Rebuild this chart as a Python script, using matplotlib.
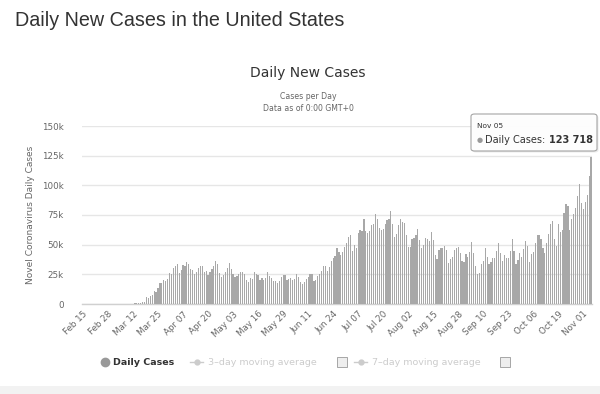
import matplotlib
matplotlib.use("Agg")
import matplotlib.pyplot as plt
from matplotlib.patches import FancyBboxPatch, Rectangle
from matplotlib.lines import Line2D
import numpy as np
import datetime as dt

# ---------------- data ----------------
start_date = dt.date(2020, 2, 15)
feb = [0, 0, 0, 0, 0, 0, 2, 0, 0, 0, 0, 1, 0, 1, 2]
mar = [8, 23, 20, 31, 68, 45, 140, 116, 65, 376, 322, 382, 516, 548, 772, 1133,
       1789, 1362, 5894, 5423, 6389, 7787, 10571, 9893, 13800, 18058, 17821,
       19821, 19408, 20921, 26341]
apr = [25200, 30081, 32133, 33867, 25910, 28973, 32835, 32141, 35099, 33752,
       29861, 28917, 25306, 26641, 30148, 31667, 32165, 26740, 28225, 24601,
       26844, 29391, 31856, 36144, 33955, 26543, 22407, 24385, 27326, 29917]
may = [34955, 29288, 25501, 22335, 23976, 24980, 27368, 26906, 25621, 20329,
       18196, 22048, 20782, 27246, 25508, 24487, 19891, 21733, 20289, 21551,
       27246, 23584, 22141, 19608, 19790, 17813, 19249, 22591, 24481, 24218,
       20486]
jun = [21066, 21882, 19909, 21140, 25177, 22733, 18591, 17014, 18807, 21158,
       23100, 25629, 25484, 19719, 20014, 23500, 25100, 28105, 31866, 32400,
       27500, 30800, 36000, 38800, 40400, 46800, 43600, 41200, 43700, 47900]
jul = [51400, 56600, 58300, 45000, 49500, 47000, 60000, 62400, 61900, 71400,
       61400, 60100, 61600, 66600, 67200, 75600, 71700, 63900, 62000, 63200,
       67100, 71000, 72000, 78400, 67800, 56100, 58700, 66600, 71300, 69000,
       68500]
aug = [58400, 47700, 48000, 54600, 56000, 58400, 63600, 53700, 46900, 49500,
       55700, 54600, 52700, 61000, 54300, 41000, 38000, 45600, 46800, 47500,
       48800, 45400, 34900, 37900, 40000, 45300, 46900, 48300, 43200, 35900,
       35800]
sep = [42500, 40000, 44000, 52000, 43000, 32000, 25000, 26000, 34000, 36000,
       47000, 40000, 34000, 35000, 39000, 39000, 45000, 51000, 43000, 36000,
       41000, 39000, 39000, 45000, 55000, 45000, 34000, 37000, 43000, 40000]
octo = [46000, 53000, 49000, 35000, 42000, 44000, 51000, 58000, 58000, 55000,
        47000, 43000, 51000, 59000, 67000, 70000, 55000, 49000, 67000, 61000,
        62000, 77000, 84000, 83000, 62000, 72000, 76000, 81000, 91000, 101000,
        85000]
nov = [80000, 86000, 92000, 108000, 123718]

daily_cases = feb + mar + apr + may + jun + jul + aug + sep + octo + nov
dates = [start_date + dt.timedelta(days=i) for i in range(len(daily_cases))]
tick_step = 13
y_ticks = [0, 25000, 50000, 75000, 100000, 125000, 150000]
y_tick_labels = ["0", "25k", "50k", "75k", "100k", "125k", "150k"]

# ---------------- figure ----------------
W, H = 600, 394
fig = plt.figure(figsize=(W / 100, H / 100), dpi=100)
fig.patch.set_facecolor("white")

def fx(px):
    return px / W

def fy(py):
    return 1 - py / H

# bottom gray band
fig.patches.append(Rectangle((0, 0), 1, fy(386), transform=fig.transFigure,
                             facecolor="#f2f2f2", edgecolor="none", zorder=0))

# page title
fig.text(fx(15), fy(26), "Daily New Cases in the United States",
         fontsize=14.2, color="#333333", family="Liberation Sans",
         ha="left", va="baseline")

# chart title / subtitles
fig.text(fx(308), fy(77), "Daily New Cases", fontsize=10, color="#333333",
         ha="center", va="baseline")
fig.text(fx(308), fy(99), "Cases per Day", fontsize=5.6, color="#666666",
         ha="center", va="baseline")
fig.text(fx(308), fy(111), "Data as of 0:00 GMT+0", fontsize=5.6,
         color="#666666", ha="center", va="baseline")

# axes
ax_left, ax_right, ax_top, ax_bottom = 82, 592, 126, 304
ax = fig.add_axes([fx(ax_left), fy(ax_bottom), fx(ax_right - ax_left),
                   (ax_bottom - ax_top) / H])
x = np.arange(len(daily_cases))
ax.bar(x, daily_cases, width=0.62, color="#a8a8a8", edgecolor="none",
       zorder=3)
ax.set_xlim(-0.5, len(daily_cases) - 0.5)
ax.set_ylim(0, 150000)
ax.set_yticks(y_ticks)
ax.set_yticklabels(y_tick_labels)
ax.yaxis.grid(True, color="#e6e6e6", linewidth=1, zorder=0)
ax.set_axisbelow(True)
for s in ["top", "right", "left"]:
    ax.spines[s].set_visible(False)
ax.spines["bottom"].set_color("#d0d0d0")
ax.spines["bottom"].set_linewidth(1)
ax.tick_params(axis="y", length=0, labelsize=6.3, labelcolor="#666666",
               pad=13)
tick_idx = list(range(0, len(daily_cases), tick_step))
ax.set_xticks(tick_idx)
ax.set_xticklabels([dates[i].strftime("%b %d") for i in tick_idx],
                   rotation=45, ha="right", rotation_mode="anchor")
ax.tick_params(axis="x", length=0, labelsize=6.3, labelcolor="#666666",
               pad=4)
ax.set_ylabel("Novel Coronavirus Daily Cases", fontsize=6.5,
              color="#666666")
ax.yaxis.set_label_coords((35 - ax_left) / (ax_right - ax_left), 0.5)

# tooltip
tip = FancyBboxPatch((fx(471), fy(151)), fx(126), (151 - 114) / H,
                     boxstyle="round,pad=0,rounding_size=0.006",
                     transform=fig.transFigure, facecolor="white",
                     edgecolor="#a0a0a0", linewidth=0.8, alpha=0.95,
                     zorder=10)
shadow = FancyBboxPatch((fx(472.5), fy(152.5)), fx(126), (151 - 114) / H,
                        boxstyle="round,pad=0,rounding_size=0.006",
                        transform=fig.transFigure, facecolor="#000000",
                        edgecolor="none", alpha=0.08, zorder=9)
fig.patches.extend([shadow, tip])
fig.text(fx(477), fy(128), "Nov 05", fontsize=5.3, color="#333333",
         ha="left", va="baseline", zorder=11)
fig.text(fx(477), fy(142), "\u25cf", fontsize=5, color="#999999",
         ha="left", va="baseline", zorder=11)
t1 = fig.text(fx(485), fy(143), "Daily Cases:", fontsize=7,
              color="#333333", ha="left", va="baseline", zorder=11)
fig.canvas.draw()
bb = t1.get_window_extent(renderer=fig.canvas.get_renderer())
fig.text(bb.x1 / W + fx(4), fy(143), "123 718", fontsize=7,
         color="#333333", fontweight="bold", ha="left", va="baseline",
         zorder=11)

# legend
ly = 365
fig.lines.append(Line2D([fx(105)], [fy(ly - 3)], marker="o", markersize=6,
                        color="#999999", transform=fig.transFigure))
fig.text(fx(113), fy(ly), "Daily Cases", fontsize=6.8, color="#333333",
         fontweight="bold", ha="left", va="baseline")
for x0, x1, label, cb in [(190, 203, "3\u2013day moving average", 337),
                          (354, 367, "7\u2013day moving average", 500)]:
    fig.lines.append(Line2D([fx(x0), fx(x1)], [fy(ly - 3), fy(ly - 3)],
                            color="#cccccc", linewidth=1,
                            transform=fig.transFigure))
    fig.lines.append(Line2D([fx((x0 + x1) / 2)], [fy(ly - 3)], marker="o",
                            markersize=3.5, color="#cccccc",
                            transform=fig.transFigure))
    fig.text(fx(x1 + 5), fy(ly), label, fontsize=6.8, color="#cccccc",
             ha="left", va="baseline")
    fig.patches.append(Rectangle((fx(cb), fy(ly + 2)), fx(10), 10 / H,
                                 transform=fig.transFigure,
                                 facecolor="#eeeeee", edgecolor="#999999",
                                 linewidth=0.6))

fig.savefig("out.png", dpi=100, facecolor="white")
